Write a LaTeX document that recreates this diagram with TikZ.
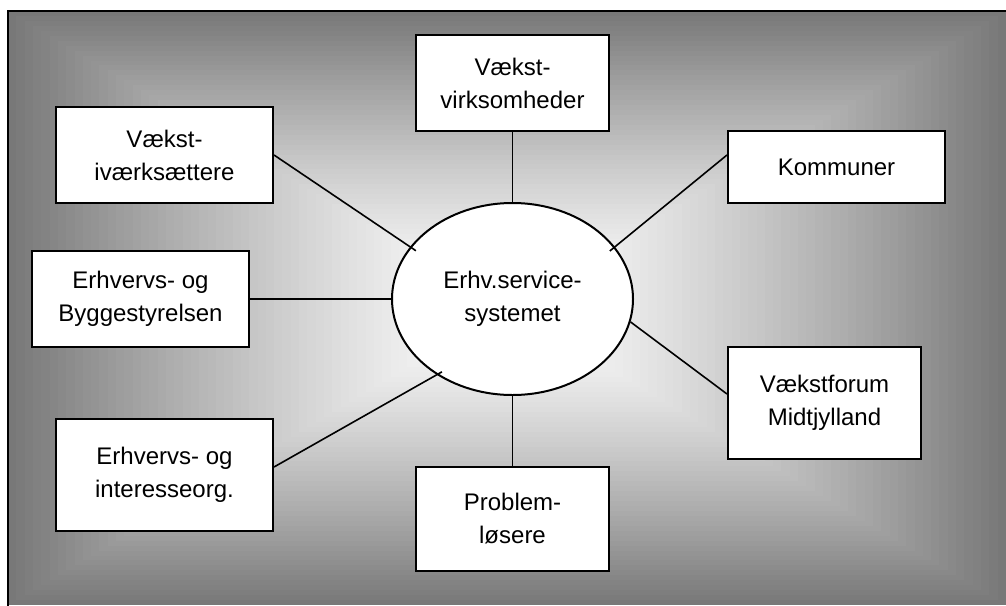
\documentclass[tikz,border=0pt]{standalone}
\usepackage{fontspec}
\setmainfont{Liberation Sans}
\usetikzlibrary{shapes.geometric}
\tikzset{
  box/.style={draw,fill=white,line width=1pt,align=center,inner sep=0pt},
  hub/.style={draw,fill=white,ellipse,line width=1pt,align=center,inner sep=0pt,minimum width=120.5pt,minimum height=96pt},
  link/.style={line width=0.8pt}
}
\begin{document}
\begin{tikzpicture}[x=0.5pt,y=-0.5pt,font=\fontsize{12}{16.5}\selectfont]
\useasboundingbox (0,0) rectangle (1006,605);
\clip (0,0) rectangle (1006,605);
\foreach \i in {60,59,...,1}{
  \pgfmathsetmacro\t{\i/60}
  \pgfmathsetmacro\g{53*\t^1.3}
  \pgfmathsetmacro\xa{507-499*\t} \pgfmathsetmacro\xb{507+499*\t}
  \pgfmathsetmacro\ya{308-297*\t} \pgfmathsetmacro\yb{308+297*\t}
  \fill[black!\g] (\xa,\ya) rectangle (\xb,\yb);
}
\draw[line width=1pt] (8,11) rectangle (1020,620);
\node[hub] (ell) at (512.5,299) {Erhv.service-\\systemet};
\node[box,minimum width=96.5pt,minimum height=48pt] (virk) at (512.5,83) {Vækst-\\virksomheder};
\node[box,minimum width=108.5pt,minimum height=48pt] (ivaerk) at (164.5,155) {Vækst-\\iværksættere};
\node[box,minimum width=108.5pt,minimum height=36pt] (komm) at (836.5,167) {Kommuner};
\node[box,minimum width=108.5pt,minimum height=48pt] (bygge) at (140.5,299) {Erhvervs- og\\Byggestyrelsen};
\node[box,minimum width=96.5pt,minimum height=56pt] (vforum) at (824.5,403) {Vækstforum\\Midtjylland};
\node[box,minimum width=108.5pt,minimum height=56pt] (inter) at (164.5,475) {Erhvervs- og\\interesseorg.};
\node[box,minimum width=96.5pt,minimum height=52pt] (prob) at (512.5,519) {Problem-\\løsere};
\draw[link] (virk.south) -- (ell.north);
\draw[link] (ell.south) -- (prob.north);
\draw[link] (bygge.east) -- (ell.west);
\draw[link,shorten >=-3.5pt] (ivaerk.east) -- (ell.153);
\draw[link,shorten >=-3.3pt] ([yshift=6pt]komm.west) -- (ell.27);
\draw[link,shorten >=-3pt] ([yshift=4pt]inter.east) -- (ell.225);
\draw[link] (ell.349) -- ([yshift=4.5pt]vforum.west);
\end{tikzpicture}
\end{document}
